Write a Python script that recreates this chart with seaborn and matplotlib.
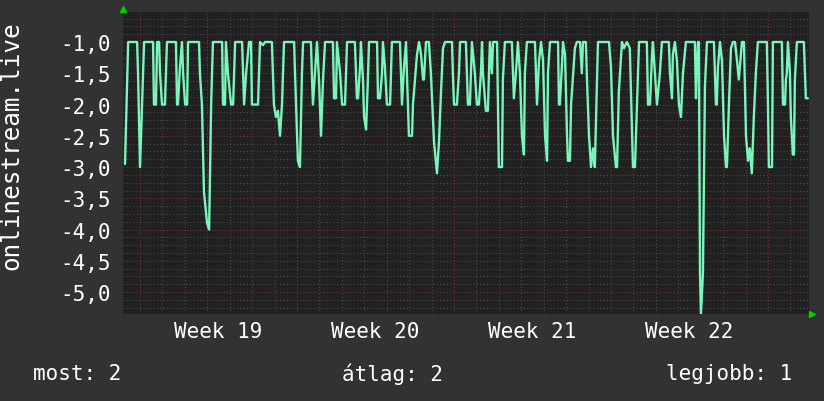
import numpy as np
import pandas as pd
import matplotlib
matplotlib.use('Agg')
import matplotlib.pyplot as plt
import seaborn as sns

# time in days since the start of week 19, value of the series
days = [
    -0.67, -0.53, -0.13, -0.09, 0.00, 0.13, 0.18, 0.58, 0.62, 0.71, 0.76, 0.85, 0.89, 0.98, 1.11, 1.20,
    1.60, 1.65, 1.69, 1.78, 1.87, 1.92, 2.01, 2.10, 2.14, 2.63, 2.67, 2.76, 2.85, 2.99, 3.08, 3.17,
    3.25, 3.66, 3.70, 3.79, 3.83, 3.92, 4.06, 4.15, 4.24,
    4.55, 4.64, 4.73, 4.86, 4.95, 4.99, 5.26, 5.35, 5.48, 5.57, 5.88, 5.97, 6.06, 6.15, 6.24, 6.33,
    6.42, 6.87, 6.91, 7.04, 7.13, 7.22, 7.27, 7.62, 7.67, 7.71, 7.80, 7.89, 7.98, 8.07, 8.16, 8.25,
    8.60, 8.65, 8.74, 8.78, 8.92, 9.01, 9.14, 9.23,
    9.58, 9.67, 9.72, 9.81, 9.85, 9.94, 9.99, 10.08, 10.16, 10.21, 10.57, 10.61, 10.70, 10.79, 10.83,
    10.92, 11.01, 11.15, 11.23, 11.59, 11.68, 11.77, 11.86, 11.90, 11.99, 12.13, 12.17, 12.35, 12.44,
    12.53, 12.62, 12.66, 12.75, 12.88, 12.97, 13.06, 13.11, 13.24, 13.33, 13.42, 13.51, 13.60, 13.91,
    13.95, 14.00, 14.13, 14.22, 14.27,
    14.53, 14.62, 14.71, 14.80, 14.93, 15.02, 15.11, 15.20, 15.25, 15.29, 15.42, 15.51, 15.56, 15.60,
    15.69, 15.74, 15.92, 15.96, 16.00, 16.14, 16.18, 16.27, 16.58, 16.67, 16.76, 16.85, 16.94, 17.03,
    17.12, 17.16, 17.25, 17.61, 17.70, 17.79, 17.88, 17.97, 18.06, 18.15, 18.19, 18.28, 18.64, 18.68,
    18.72, 18.81, 18.86, 18.95, 19.04, 19.08, 19.17, 19.22, 19.39, 19.48,
    19.62, 19.70, 19.75, 19.88, 19.93, 20.02, 20.11, 20.20, 20.28, 20.42, 20.91, 21.00, 21.09, 21.22,
    21.27, 21.35, 21.49, 21.58, 21.71, 21.84, 21.89, 21.98, 22.07, 22.16, 22.25, 22.60, 22.65, 22.74,
    22.83, 22.87, 22.96, 23.05, 23.18, 23.27, 23.58, 23.63, 23.72, 23.76, 23.85, 23.94, 24.03, 24.12,
    24.21, 24.34, 24.74, 24.79,
    24.83, 24.88, 24.92, 24.97, 25.01, 25.10, 25.19, 25.28, 25.59, 25.68, 25.72, 25.77, 25.86, 25.95,
    26.04, 26.13, 26.17, 26.26, 26.35, 26.44, 26.53, 26.62, 26.70, 26.84, 26.93, 27.02, 27.11, 27.19,
    27.28, 27.37, 27.46, 27.55, 27.95, 28.00, 28.04, 28.18, 28.22, 28.62, 28.67, 28.76, 28.80, 28.84,
    28.89, 28.98, 29.02, 29.11, 29.16, 29.20, 29.29, 29.60, 29.69, 29.78,
]
values = [
    -2.95, -1.0, -1.0, -1.5, -3.0, -1.55, -1.0, -1.0, -2.0, -2.0, -1.0, -1.0, -1.5, -2.0, -2.0, -1.0,
    -1.0, -2.0, -2.0, -1.4, -1.0, -1.5, -2.0, -2.0, -1.0, -1.0, -1.5, -2.0, -3.4, -3.9, -4.0, -2.0,
    -1.0, -1.0, -2.0, -2.0, -1.0, -1.5, -2.0, -2.0, -1.0,
    -1.0, -2.0, -1.5, -1.0, -1.0, -2.0, -2.0, -1.0, -1.05, -1.0, -1.0, -2.0, -2.2, -2.1, -2.5, -2.0,
    -1.0, -1.0, -1.5, -2.9, -3.0, -1.5, -1.0, -1.0, -1.6, -2.0, -1.5, -1.0, -1.6, -2.5, -1.6, -1.0,
    -1.0, -1.9, -1.9, -1.0, -1.5, -2.0, -2.0, -1.0,
    -1.0, -1.9, -1.9, -1.4, -1.0, -1.6, -2.2, -2.4, -1.6, -1.0, -1.0, -1.9, -1.9, -1.5, -1.0,
    -1.4, -2.0, -2.0, -1.0, -1.0, -2.0, -1.4, -1.0, -1.5, -2.5, -2.5, -2.0, -1.2, -1.0,
    -1.2, -1.6, -1.6, -1.0, -1.0, -1.5, -2.2, -2.6, -3.1, -2.6, -1.8, -1.1, -1.0, -1.0,
    -1.5, -2.0, -2.0, -1.5, -1.0,
    -1.0, -2.0, -2.0, -1.0, -1.5, -2.0, -2.0, -1.5, -1.0, -1.5, -2.1, -2.1, -1.5, -1.0,
    -1.5, -1.0, -1.0, -2.0, -3.0, -3.0, -1.6, -1.0, -1.0, -1.9, -1.5, -1.0, -1.5, -2.5,
    -2.8, -1.5, -1.0, -1.0, -2.0, -1.3, -1.0, -1.3, -2.5, -2.9, -1.5, -1.0, -1.0, -2.0,
    -2.0, -1.4, -1.0, -1.2, -2.5, -2.9, -2.9, -2.0, -1.1, -1.0,
    -1.0, -1.5, -1.0, -1.0, -1.6, -2.5, -3.0, -2.7, -3.0, -1.0, -1.0, -1.4, -2.5, -3.0,
    -3.0, -1.8, -1.0, -1.1, -1.0, -1.1, -1.8, -3.0, -3.0, -2.0, -1.0, -1.0, -2.0, -2.0,
    -1.2, -1.0, -1.5, -2.0, -1.5, -1.0, -1.0, -1.5, -1.9, -1.2, -1.0, -1.3, -2.0, -2.2,
    -1.5, -1.0, -1.0, -1.9,
    -1.4, -1.0, -1.0, -4.7, -5.37, -4.7, -1.7, -1.0, -1.0, -2.0, -2.0, -1.4, -1.0, -1.3,
    -2.5, -3.0, -3.0, -2.0, -1.1, -1.0, -1.0, -1.3, -1.6, -1.0, -1.0, -2.5, -2.9, -2.7,
    -3.1, -2.2, -1.5, -1.0, -1.0, -2.0, -3.0, -3.0, -1.0, -1.0, -2.0, -2.0, -1.6, -1.5,
    -1.0, -1.5, -2.2, -2.8, -2.8, -1.6, -1.0, -1.0, -1.9, -1.9,
]
week_labels = ['Week 19', 'Week 20', 'Week 21', 'Week 22']
week_starts = [0, 7, 14, 21, 28]
footer = ['most: 2', 'átlag: 2', 'legjobb: 1']

df = pd.DataFrame({'day': days, 'value': values})

sns.set_style('dark')
plt.rcParams['font.family'] = ['DejaVu Sans Mono', 'DejaVu Sans']
fs = 15

fig = plt.figure(figsize=(8.24, 4.02), dpi=100, facecolor='#323232')
ax = fig.add_axes([123 / 824, 1 - 315 / 402, 686 / 824, 302 / 402])
ax.set_facecolor('#212121')

sns.lineplot(data=df, x='day', y='value', ax=ax, color='#7af5bc',
             linewidth=1.7, estimator=None, sort=False)

ax.set_xlim(-0.76, 29.83)
ax.set_ylim(-5.35, -0.52)

ax.set_xticks(week_starts)
ax.set_xticks(np.arange(0, 30, 1), minor=True)
ax.set_yticks(np.arange(-5.0, -0.9, 0.5))
ax.set_yticks(np.arange(-5.25, -0.5, 0.125), minor=True)
ax.set_yticklabels([f'{v:.1f}'.replace('.', ',') for v in np.arange(-5.0, -0.9, 0.5)],
                   color='white', fontsize=fs)
ax.set_xticklabels([])

ax.grid(which='major', color='#7a3333', linestyle=(0, (1, 2)), linewidth=0.8)
ax.grid(which='minor', color='#4a4a4a', linestyle=(0, (1, 2)), linewidth=0.8)
ax.set_axisbelow(True)
ax.tick_params(which='both', length=2, color='#555555', pad=8)
ax.tick_params(axis='y', which='major', length=0, pad=9)
for s in ax.spines.values():
    s.set_visible(False)

for i, lab in enumerate(week_labels):
    ax.text(week_starts[i] + 3.5, -0.022, lab, transform=ax.get_xaxis_transform(),
            ha='center', va='top', color='white', fontsize=fs)

ax.set_xlabel('')
ax.set_ylabel('onlinestream.live', color='white', fontsize=17.5)
ax.yaxis.set_label_coords(-0.145, 0.56)

# green arrows at the axis ends
ax.plot([0.0], [1.01], marker='^', color='#00d000', markersize=5,
        transform=ax.transAxes, clip_on=False)
ax.plot([1.005], [0.0], marker='>', color='#00d000', markersize=5,
        transform=ax.transAxes, clip_on=False)

fig.text(33 / 824, 1 - 374 / 402, footer[0], ha='left', va='center', color='white', fontsize=fs)
fig.text(393 / 824, 1 - 374 / 402, footer[1], ha='center', va='center', color='white', fontsize=fs)
fig.text(792 / 824, 1 - 374 / 402, footer[2], ha='right', va='center', color='white', fontsize=fs)

fig.savefig('out.png', dpi=100, facecolor=fig.get_facecolor())
